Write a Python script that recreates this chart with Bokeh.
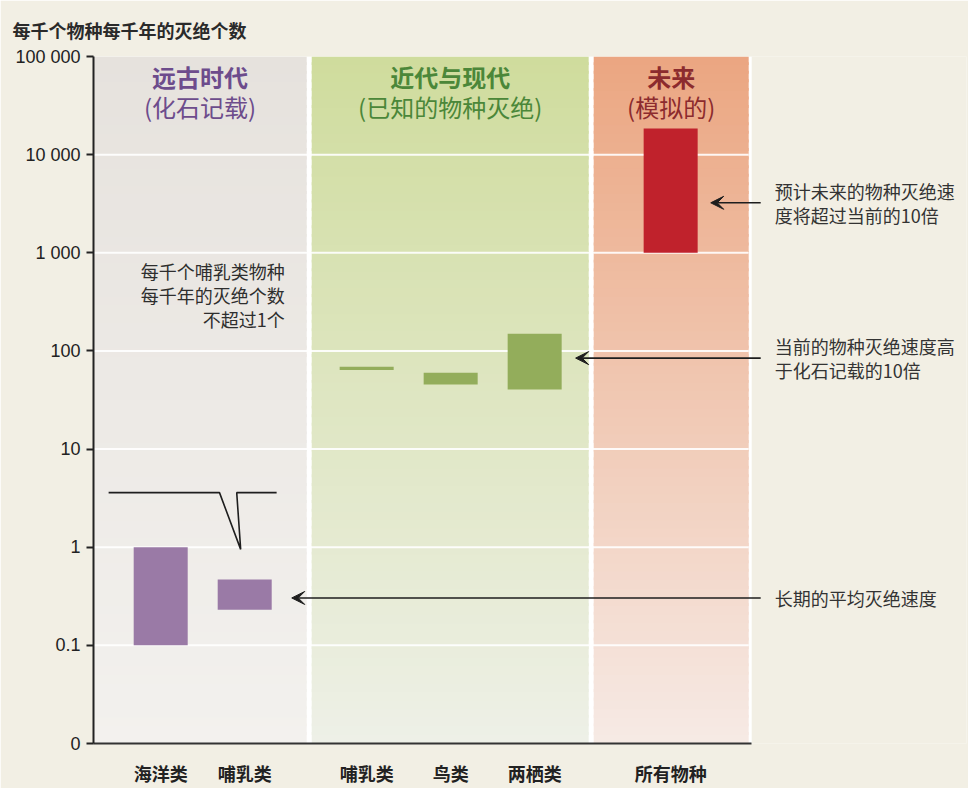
import numpy as np
from bokeh.plotting import figure
from bokeh.models import Range1d, FixedTicker, Arrow, VeeHead
from bokeh.core.properties import value
from bokeh.embed import file_html
from bokeh.resources import INLINE

# ---------------- data ----------------
categories = ["海洋类", "哺乳类", "哺乳类", "鸟类", "两栖类", "所有物种"]
cat_x = [0, 1, 2.452, 3.452, 4.452, 6.071]          # slot positions on the x axis
rate_low = [0.1, 0.23, 64, 45.5, 40.5, 1000]
rate_high = [1.0, 0.47, 69, 60, 150, 18500]
bar_colors = ["#9a7aa6", "#9a7aa6", "#93ad5b", "#93ad5b", "#93ad5b", "#c0222c"]

y_ticks = [0.01, 0.1, 1, 10, 100, 1000, 10000, 100000]
y_tick_labels = ["0", "0.1", "1", "10", "100", "1 000", "10 000", "100 000"]

panel_titles = ["远古时代", "近代与现代", "未来"]
panel_subtitles = ["(化石记载)", "(已知的物种灭绝)", "(模拟的)"]
panel_text_colors = ["#6d4c8c", "#4b8739", "#8c2b2e"]
panel_left = [-0.8, 1.798, 5.155]
panel_right = [1.738, 5.095, 7.0]
panel_top_colors = [(230, 226, 221), (207, 220, 157), (235, 166, 129)]
panel_bottom_colors = [(243, 241, 238), (238, 240, 231), (246, 234, 229)]

note_texts = ["预计未来的物种灭绝速\n度将超过当前的10倍",
              "当前的物种灭绝速度高\n于化石记载的10倍",
              "长期的平均灭绝速度"]
note_y = [3230, 84.5, 0.304]
arrow_end_x = [6.548, 4.94, 1.56]

inner_note = "每千个哺乳类物种\n每千年的灭绝个数\n不超过1个"
chart_title = "每千个物种每千年的灭绝个数"

CREAM = "#f2efe4"
CJK = "Noto Sans CJK SC"

p = figure(width=968, height=788, y_axis_type="log",
           x_range=Range1d(-0.8, 9.593), y_range=Range1d(0.01, 100000),
           output_backend="svg", toolbar_location=None,
           min_border_left=93, min_border_right=2, min_border_top=56, min_border_bottom=44,
           background_fill_color=CREAM, border_fill_color=CREAM, outline_line_color=None)

# white base behind the panels (creates the white gaps)
p.quad(left=[-0.8], right=[7.036], bottom=[0.01], top=[100000], fill_color="white", line_color=None)

# gradient panels
n = 80
edges = np.linspace(-2, 5, n + 1)
for l, r, ct, cb in zip(panel_left, panel_right, panel_top_colors, panel_bottom_colors):
    mids = (edges[:-1] + edges[1:]) / 2
    t = (5 - mids) / 7.0
    cols = []
    for tt in t:
        c = [int(round(a + (b - a) * tt)) for a, b in zip(ct, cb)]
        cols.append("#%02x%02x%02x" % tuple(c))
    tops = np.minimum(10 ** (edges[1:] + 0.03), 100000)
    p.quad(left=[l] * n, right=[r] * n, bottom=10 ** edges[:-1], top=tops,
           fill_color=cols, line_color=None)

# white grid lines
grid_vals = y_ticks[1:-1]
p.segment(x0=[-0.8] * len(grid_vals), x1=[7.0] * len(grid_vals), y0=grid_vals, y1=grid_vals,
          line_color="white", line_width=2, line_alpha=0.9)

# bars
p.quad(left=[x - 0.3215 for x in cat_x], right=[x + 0.3215 for x in cat_x],
       bottom=rate_low, top=rate_high, fill_color=bar_colors, line_color=None)

# panel headers
centers = [(l + r) / 2 for l, r in zip(panel_left, panel_right)]
p.text(x=centers, y=[62500] * 3, text=panel_titles, text_color=panel_text_colors,
       text_font=value(CJK), text_font_size="24px", text_font_style="bold",
       text_align="center", text_baseline="middle")
p.text(x=centers, y=[31000] * 3, text=panel_subtitles, text_color=panel_text_colors,
       text_font=value(CJK), text_font_size="24px",
       text_align="center", text_baseline="middle")

# inner note
p.text(x=[1.476], y=[368], text=[inner_note], text_color="#2e2e2e",
       text_font=value(CJK), text_font_size="18px", text_align="right",
       text_baseline="middle", text_line_height=0.92)

# bracket
p.line(x=[-0.62, 0.70, 0.952, 0.905, 1.38], y=[3.6, 3.6, 0.95, 3.6, 3.6],
       line_color="#1e1e1e", line_width=1.6)

# right notes and arrows
p.text(x=[7.31] * 3, y=note_y, text=note_texts, text_color="#333333",
       text_font=value(CJK), text_font_size="18px", text_align="left",
       text_baseline="middle", text_line_height=0.93)
for yv, xe in zip(note_y, arrow_end_x):
    p.add_layout(Arrow(x_start=7.143, y_start=yv, x_end=xe, y_end=yv,
                       line_color="#1e1e1e", line_width=1.6,
                       end=VeeHead(size=13, fill_color="#1e1e1e", line_color="#1e1e1e")))

# axes
p.grid.visible = False
ya = p.yaxis[0]
ya.ticker = FixedTicker(ticks=y_ticks)
ya.major_label_overrides = {k: v for k, v in zip(y_ticks, y_tick_labels)}
ya.minor_tick_line_color = None
ya.axis_line_width = 2
ya.axis_line_color = "#222222"
ya.major_tick_line_width = 2
ya.major_tick_line_color = "#222222"
ya.major_tick_out = 7
ya.major_tick_in = 0
ya.major_label_text_font = "Liberation Sans"
ya.major_label_text_font_size = "18px"
ya.major_label_text_color = "#222222"
ya.major_label_standoff = 6

xa = p.xaxis[0]
xa.ticker = FixedTicker(ticks=cat_x)
xa.major_label_overrides = {k: v for k, v in zip(cat_x, categories)}
xa.bounds = (-0.8, 7.036)
xa.minor_tick_line_color = None
xa.major_tick_line_color = None
xa.axis_line_width = 2
xa.axis_line_color = "#333333"
xa.major_label_text_font = CJK
xa.major_label_text_font_style = "bold"
xa.major_label_text_font_size = "18px"
xa.major_label_text_color = "#222222"
xa.major_label_standoff = 10

p.title.text = chart_title
p.title.text_font = CJK
p.title.text_font_size = "18px"
p.title.text_font_style = "bold"
p.title.text_color = "#2a2a2a"
p.title.align = "left"
p.title.offset = -81
p.title.standoff = 24
p.title.vertical_align = "top"

open("out.html", "w").write(file_html(p, INLINE))
